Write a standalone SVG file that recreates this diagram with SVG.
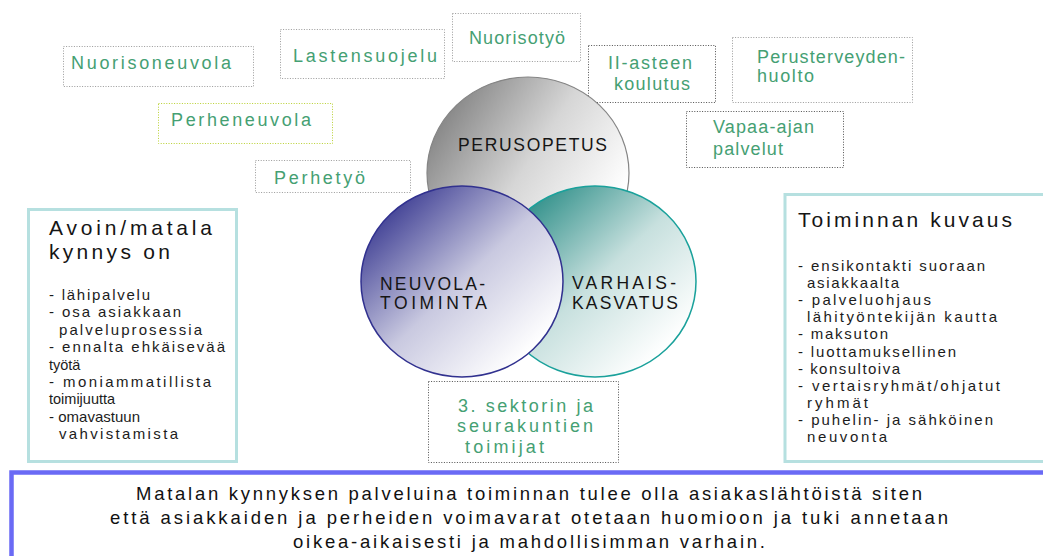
<svg xmlns="http://www.w3.org/2000/svg" width="1043" height="556" viewBox="0 0 1043 556">
<style>
.lbl{fill:none;stroke:#9a9a9a;stroke-width:1;stroke-dasharray:1 1.6}
.dk{stroke:#505050}
.yg{stroke:#b8d030}
.g{font-family:"Liberation Sans",Arial,sans-serif;font-size:18px;fill:#45a073}
.c{font-family:"Liberation Sans",Arial,sans-serif;font-size:17.5px;fill:#151515}
.t{font-family:"Liberation Sans",Arial,sans-serif;font-size:21px;fill:#151515}
.l{font-family:"Liberation Sans",Arial,sans-serif;font-size:15px;fill:#1c1c1c}
.s{font-size:14.5px}
.b{font-family:"Liberation Sans",Arial,sans-serif;font-size:18.5px;fill:#111}
.panel{fill:#fff;stroke:#b6e0e0;stroke-width:3}
</style>
<defs>
<linearGradient id="gGrey" x1="0.1" y1="0.2" x2="0.9" y2="0.7">
<stop offset="0" stop-color="#8a8a8a"/><stop offset="0.5" stop-color="#d6d6d6"/><stop offset="1" stop-color="#ffffff"/>
</linearGradient>
<linearGradient id="gBlue" x1="0.15" y1="0.15" x2="0.85" y2="0.85">
<stop offset="0" stop-color="#4a4a9a"/><stop offset="0.5" stop-color="#c9c9e0"/><stop offset="1" stop-color="#ffffff"/>
</linearGradient>
<linearGradient id="gTeal" x1="0.15" y1="0.15" x2="0.85" y2="0.85">
<stop offset="0" stop-color="#3a958f"/><stop offset="0.5" stop-color="#c7e0de"/><stop offset="1" stop-color="#ffffff"/>
</linearGradient>
</defs>
<rect width="1043" height="556" fill="#fff"/>

<g id="nuorisoneuvola">
<rect class="lbl" x="63.5" y="46.5" width="190" height="40"/>
<text class="g" x="71" y="69" textLength="160">Nuorisoneuvola</text>
</g>
<g id="lastensuojelu">
<rect class="lbl" x="280.5" y="29.5" width="164" height="49"/>
<text class="g" x="293" y="62" textLength="144">Lastensuojelu</text>
</g>
<g id="nuorisotyo">
<rect class="lbl" x="452.5" y="13.5" width="128" height="48"/>
<text class="g" x="469" y="44" textLength="96">Nuorisotyö</text>
</g>
<g id="toisen-asteen">
<rect class="lbl dk" x="588.5" y="45.5" width="127" height="57"/>
<text class="g" x="608" y="69" textLength="84">II-asteen</text>
<text class="g" x="614" y="90" textLength="76">koulutus</text>
</g>
<g id="perusterveydenhuolto">
<rect class="lbl" x="732.5" y="37.5" width="180" height="65"/>
<text class="g" x="757" y="63" textLength="148">Perusterveyden-</text>
<text class="g" x="757" y="82" textLength="57">huolto</text>
</g>
<g id="vapaa-ajan">
<rect class="lbl dk" x="686.5" y="111.5" width="157" height="56"/>
<text class="g" x="713" y="133" textLength="101">Vapaa-ajan</text>
<text class="g" x="713" y="155" textLength="70">palvelut</text>
</g>
<g id="perheneuvola">
<rect class="lbl yg" x="158.5" y="103.5" width="174" height="40"/>
<text class="g" x="171" y="126" textLength="140">Perheneuvola</text>
</g>
<g id="perhetyo">
<rect class="lbl" x="255.5" y="160.5" width="155" height="32"/>
<text class="g" x="274" y="184" textLength="91">Perhetyö</text>
</g>

<g id="perusopetus">
<ellipse cx="528" cy="173" rx="101" ry="96" fill="url(#gGrey)" stroke="#858585" stroke-width="1.2"/>
<text class="c" x="458" y="151" textLength="149">PERUSOPETUS</text>
</g>
<g id="varhaiskasvatus">
<ellipse cx="595" cy="281.5" rx="101" ry="95.5" fill="url(#gTeal)" stroke="#1aa19b" stroke-width="1.5"/>
<text class="c" x="572" y="289" textLength="104">VARHAIS-</text>
<text class="c" x="572" y="309" textLength="106">KASVATUS</text>
</g>
<g id="neuvolatoiminta">
<ellipse cx="462" cy="281.5" rx="101" ry="95.5" fill="url(#gBlue)" stroke="#31318f" stroke-width="1.5"/>
<text class="c" x="380" y="290" textLength="105">NEUVOLA-</text>
<text class="c" x="380" y="309" textLength="107">TOIMINTA</text>
</g>

<g id="kolmas-sektori">
<rect class="lbl dk" x="428.5" y="381.5" width="190" height="81"/>
<text class="g" x="458" y="412" textLength="135">3. sektorin ja</text>
<text class="g" x="457" y="432" textLength="136">seurakuntien</text>
<text class="g" x="465" y="453" textLength="79">toimijat</text>
</g>

<g id="avoin-matala">
<rect class="panel" x="28.5" y="209.5" width="208" height="252"/>
<text class="t" x="49" y="235" textLength="163">Avoin/matala</text>
<text class="t" x="49" y="259" textLength="121">kynnys on</text>
<text class="l" x="49" y="300" textLength="101">- lähipalvelu</text>
<text class="l" x="49" y="317.4" textLength="132">- osa asiakkaan</text>
<text class="l" x="59" y="334.8" textLength="143">palveluprosessia</text>
<text class="l" x="49" y="352.2" textLength="176">- ennalta ehkäisevää</text>
<text class="l s" x="49" y="369.6">työtä</text>
<text class="l" x="49" y="387" textLength="162">- moniammatillista</text>
<text class="l s" x="49" y="404.4">toimijuutta</text>
<text class="l" x="49" y="421.8" textLength="91">- omavastuun</text>
<text class="l" x="59" y="439.2" textLength="119">vahvistamista</text>
</g>

<g id="toiminnan-kuvaus">
<rect class="panel" x="785" y="194.5" width="300" height="267"/>
<text class="t" x="798" y="227" textLength="214">Toiminnan kuvaus</text>
<text class="l" x="798" y="271" textLength="187">- ensikontakti suoraan</text>
<text class="l" x="807" y="288" textLength="92">asiakkaalta</text>
<text class="l" x="798" y="305" textLength="133">- palveluohjaus</text>
<text class="l" x="807" y="322" textLength="190">lähityöntekijän kautta</text>
<text class="l" x="798" y="339" textLength="90">- maksuton</text>
<text class="l" x="798" y="356.5" textLength="158">- luottamuksellinen</text>
<text class="l" x="798" y="373.6" textLength="102">- konsultoiva</text>
<text class="l" x="798" y="390.7" textLength="202">- vertaisryhmät/ohjatut</text>
<text class="l" x="807" y="407.8" textLength="61">ryhmät</text>
<text class="l" x="798" y="424.9" textLength="195">- puhelin- ja sähköinen</text>
<text class="l" x="807" y="442" textLength="80">neuvonta</text>
</g>

<g id="yhteenveto">
<rect x="11.5" y="472.5" width="1100" height="100" fill="#fff" stroke="#6a6af5" stroke-width="4.5"/>
<text class="b" x="136" y="500" textLength="786">Matalan kynnyksen palveluina toiminnan tulee olla asiakaslähtöistä siten</text>
<text class="b" x="110" y="524" textLength="838">että asiakkaiden ja perheiden voimavarat otetaan huomioon ja tuki annetaan</text>
<text class="b" x="293" y="548" textLength="472">oikea-aikaisesti ja mahdollisimman varhain.</text>
</g>
</svg>
